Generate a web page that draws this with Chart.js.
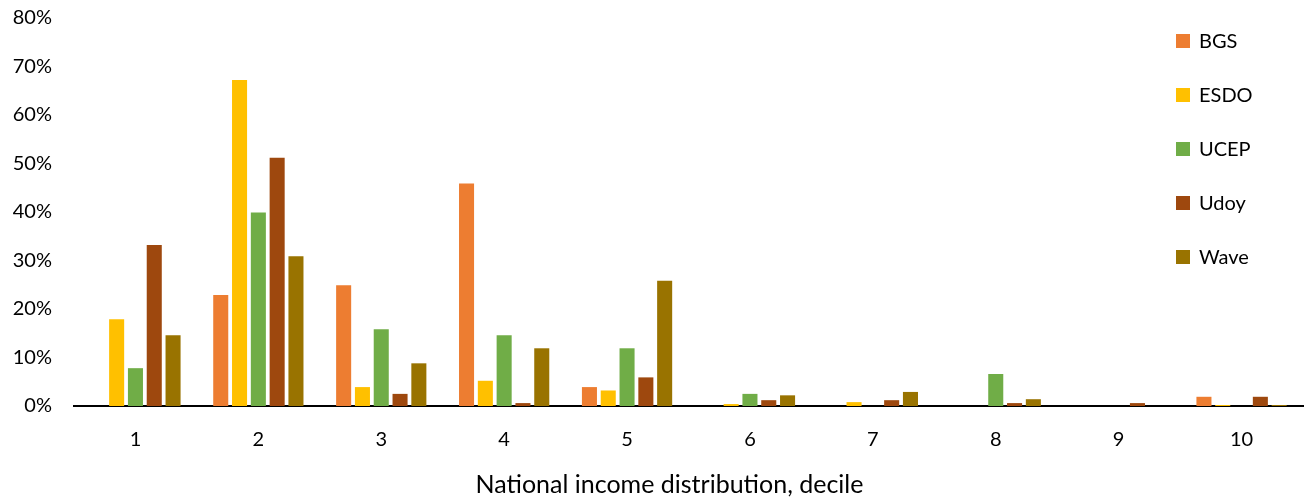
<!DOCTYPE html>
<html>
<head>
<meta charset="utf-8">
<style>
  html, body { margin: 0; padding: 0; background: #fff; }
  #wrap { width: 1304px; height: 499px; position: relative; }
</style>
<script src="https://cdn.jsdelivr.net/npm/chart.js@4/dist/chart.umd.min.js"></script>
</head>
<body>
<div id="wrap"><canvas id="chart" width="1304" height="499"></canvas></div>
<script>
// Share of each programme's participants by national income decile (%)
const deciles = ['1', '2', '3', '4', '5', '6', '7', '8', '9', '10'];
const seriesNames = ['BGS', 'ESDO', 'UCEP', 'Udoy', 'Wave'];
const bgs  = [0,    22.9, 24.9, 45.9, 3.9,  0,   0,   0,   0,   1.9];
const esdo = [17.9, 67.2, 3.9,  5.2,  3.2,  0.4, 0.8, 0,   0,   0.2];
const ucep = [7.8,  39.9, 15.8, 14.6, 11.9, 2.5, 0,   6.6, 0,   0];
const udoy = [33.2, 51.2, 2.5,  0.6,  5.9,  1.2, 1.2, 0.6, 0.6, 1.9];
const wave = [14.6, 30.9, 8.8,  11.9, 25.8, 2.2, 2.9, 1.4, 0,   0.2];
const yTicks = [0, 10, 20, 30, 40, 50, 60, 70, 80];
const xTitle = 'National income distribution, decile';

const colors = ['#ED7D31', '#FFC000', '#70AD47', '#9E480E', '#997300'];
const values = [bgs, esdo, ucep, udoy, wave];
const FONT = 'Lato, "Open Sans", sans-serif';

// Legend stacked vertically inside the plot, near the top-right corner,
// plus the x-axis caption set slightly left of the plot centre
const decorations = {
  id: 'decorations',
  afterDraw(chart) {
    const ctx = chart.ctx;
    const area = chart.chartArea;
    const x0 = area.right - 124;
    ctx.save();
    ctx.font = '20px ' + FONT;
    ctx.textBaseline = 'middle';
    ctx.textAlign = 'left';
    chart.data.datasets.forEach((ds, i) => {
      const cy = 41 + i * 54;
      ctx.fillStyle = ds.backgroundColor;
      ctx.fillRect(x0 - 3, cy - 7, 14, 14);
      ctx.fillStyle = '#000';
      ctx.fillText(ds.label, x0 + 20, cy + 1);
    });
    ctx.font = '25px ' + FONT;
    ctx.textAlign = 'center';
    ctx.fillText(xTitle, (area.left + area.right) / 2 - 19, 485);
    ctx.restore();
  }
};

new Chart(document.getElementById('chart'), {
  type: 'bar',
  data: {
    labels: deciles,
    datasets: seriesNames.map((name, i) => ({
      label: name,
      data: values[i],
      backgroundColor: colors[i],
      borderWidth: 0,
      categoryPercentage: 0.765,
      barPercentage: 0.8
    }))
  },
  options: {
    responsive: false,
    animation: false,
    devicePixelRatio: 1,
    layout: { padding: { top: 18, right: 1, left: 0, bottom: 0 } },
    plugins: {
      legend: { display: false },
      tooltip: { enabled: false }
    },
    scales: {
      x: {
        grid: { display: false, drawTicks: false },
        border: { display: true, color: '#000', width: 2 },
        ticks: { color: '#000', font: { family: FONT, size: 20 }, padding: 22 },
        afterFit(scale) { scale.height = 93; }
      },
      y: {
        min: 0,
        max: 80,
        grid: { display: false, drawTicks: false },
        border: { display: false },
        afterBuildTicks(scale) { scale.ticks = yTicks.map(v => ({ value: v })); },
        ticks: {
          color: '#000',
          font: { family: FONT, size: 20 },
          padding: 22,
          callback: v => v + '%'
        },
        afterFit(scale) {
          scale.width = 74;
          scale.paddingTop = 0;
          scale.paddingBottom = 0;
        }
      }
    }
  },
  plugins: [decorations]
});
</script>
</body>
</html>
